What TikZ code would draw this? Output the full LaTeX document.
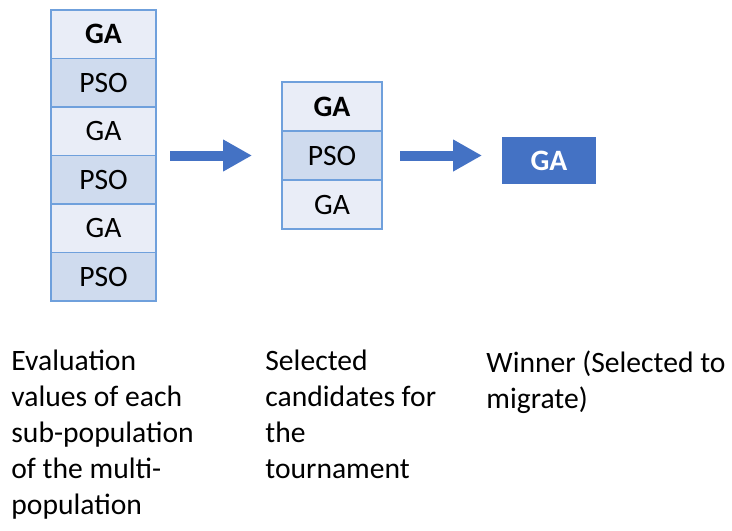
\documentclass[tikz,border=0pt]{standalone}
\usepackage{fontspec}
\setmainfont{Carlito}
\usetikzlibrary{arrows.meta}

\definecolor{cellLight}{HTML}{E9EDF7}
\definecolor{cellDark}{HTML}{CFDBEE}
\definecolor{cellLine}{HTML}{6FA0DC}
\definecolor{winBlue}{HTML}{4472C4}

\tikzset{
	cell/.style={draw=cellLine, line width=0.75pt, inner sep=0, outer sep=0, font=\fontsize{14.8}{17}\selectfont},
	popcell/.style={cell, minimum width=52.5pt, minimum height=24.25pt},
	candcell/.style={cell, minimum width=50pt, minimum height=24.5pt},
	blockarrow/.style={draw=winBlue, line width=5pt, -{Triangle[length=14.5pt, width=15pt]}},
	caption/.style={anchor=north west, inner sep=0, align=left, font=\fontsize{14.8}{18}\selectfont}
}

\begin{document}
\begin{tikzpicture}[x=0.5pt, y=-0.5pt]
		\useasboundingbox (0, 0) rectangle (732, 530);
		
		% population column
		\node[popcell, fill=cellLight] (pop1) at (103.5, 34.25) {\textbf{GA}};
		\node[popcell, fill=cellDark] (pop2) at (103.5, 82.75) {PSO};
		\node[popcell, fill=cellLight] (pop3) at (103.5, 131.25) {GA};
		\node[popcell, fill=cellDark] (pop4) at (103.5, 179.75) {PSO};
		\node[popcell, fill=cellLight] (pop5) at (103.5, 228.25) {GA};
		\node[popcell, fill=cellDark] (pop6) at (103.5, 276.75) {PSO};
		
		% tournament candidates
		\node[candcell, fill=cellLight] (cand1) at (332, 106.5) {\textbf{GA}};
		\node[candcell, fill=cellDark] (cand2) at (332, 155.5) {PSO};
		\node[candcell, fill=cellLight] (cand3) at (332, 204.5) {GA};
		
		% winner
		\node[cell, draw=winBlue, fill=winBlue, text=white, minimum width=46pt, minimum height=22.5pt] (win) at (549, 160.5) {\textbf{GA}};
		
		\draw[blockarrow, shorten <=7pt, shorten >=15pt] (pop3.south east) -- (pop3.south east -| cand2.west);
		\draw[blockarrow, shorten <=9pt, shorten >=10.5pt] (cand2.east) -- (cand2.east -| win.west);
		
		\node[caption] (evaltext) at (11, 350) {Evaluation\\values of each\\sub-population\\of the multi-\\population};
		\node[caption] (candtext) at (265, 350) {Selected\\candidates for\\the\\tournament};
		\node[caption] (wintext) at (486, 350) {Winner (Selected to\\migrate)};
	\end{tikzpicture}
\end{document}
